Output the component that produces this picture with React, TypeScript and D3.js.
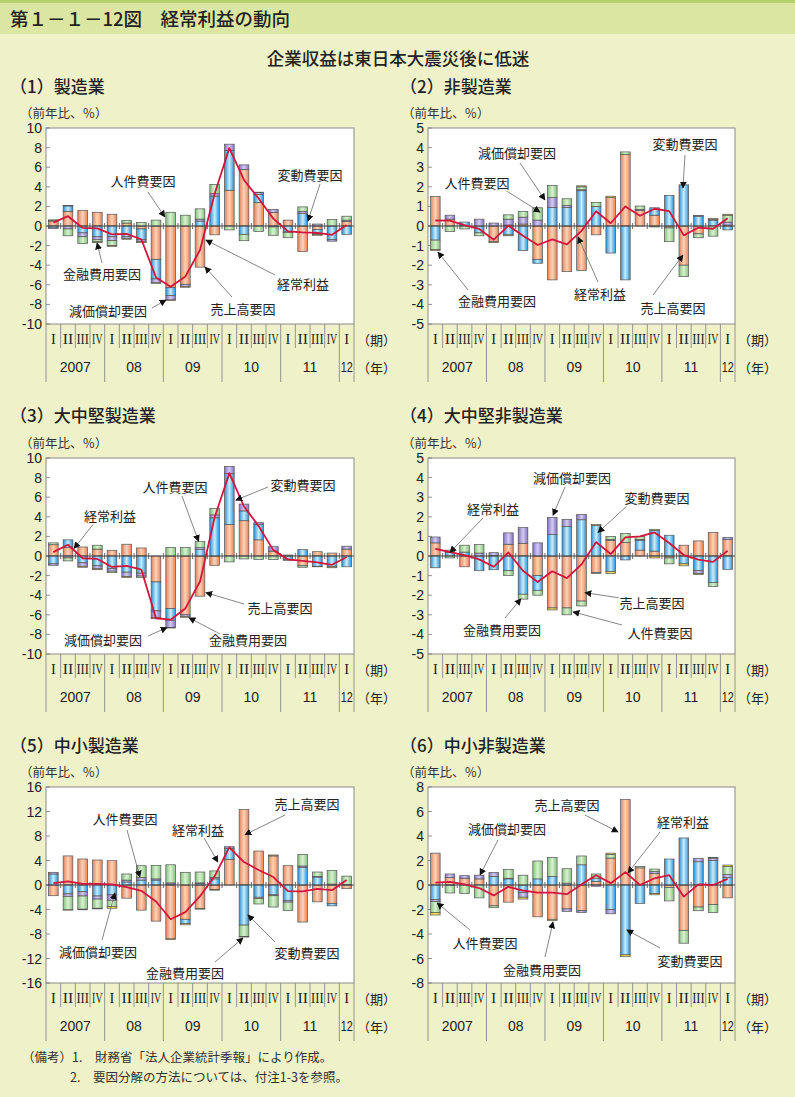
import React from "react";
import * as d3 from "d3";

// ---------- categories ----------
const quarterLabels = ["I","II","III","IV","I","II","III","IV","I","II","III","IV","I","II","III","IV","I","II","III","IV","I"];
const yearLabels = ["2007","08","09","10","11","12"];
const yearStarts = [0,4,8,12,16,20];
const yearEnds = [4,8,12,16,20,21];

const factorKeys = ["sales","variable","dep","pers","fin"];
const factorNames = ["売上高要因","変動費要因","減価償却要因","人件費要因","金融費用要因"];

// ---------- (1) 製造業 ----------
const mfgSales = [0.5,1.5,1.6,1.4,1.2,0.3,-0.3,-3.4,-6.3,-5.95,-4.2,-0.9,3.65,5.76,2.4,1.4,0.6,-2.6,-0.35,0,0.45];
const mfgVar = [-0.2,0.55,-0.7,-1.1,-1.1,-1.1,-1.1,-2.0,-0.8,0,0.5,3.05,4.05,-0.85,0.8,-0.1,-0.6,1.3,-0.45,-1.4,-0.85];
const mfgDep = [-0.05,-0.3,-0.4,-0.3,-0.4,-0.2,-0.2,-0.4,-0.45,-0.25,0.2,0.25,0.65,0.48,0.2,0.3,-0.05,0.2,0.2,-0.15,0.15];
const mfgPers = [0.05,-0.7,-0.7,-0.2,-0.5,0.25,0.35,0.6,1.4,1.1,1.05,0.95,-0.4,-0.65,-0.55,-0.85,-0.55,0.45,-0.05,0.65,0.4];
const mfgFin = [0.08,0.05,0,-0.1,-0.1,-0.05,-0.1,-0.05,-0.05,-0.05,0,0,0,0,0.05,0,0,0,-0.1,0,0];
const mfgProfit = [0.35,1.0,-0.2,-0.25,-0.85,-0.8,-1.35,-5.25,-6.2,-5.15,-2.45,3.3,7.95,4.7,2.8,0.75,-0.55,-0.65,-0.7,-0.9,0.1];

// ---------- (2) 非製造業 ----------
const nonSales = [1.5,0.35,0,0,-0.8,0.05,0.1,-1.7,-2.75,-2.33,-2.27,-0.45,1.45,3.65,0.8,0.55,-0.1,-2.0,-0.4,0,0.05];
const nonVar = [-0.72,0,0.2,-0.35,0,-0.45,-1.25,-0.2,0.95,0.95,1.8,1.0,-1.38,-2.75,0,0.38,1.56,2.1,0.5,0.3,-0.2];
const nonDep = [0,0.2,0,0.35,0.15,0.3,0.35,0.3,0.5,0.1,0.05,0,0,0,0.05,0,0,0,0.04,0.03,0.15];
const nonPers = [-0.48,-0.28,-0.15,-0.15,0,0.22,0.3,0.63,0.62,0.34,0.15,0.2,0,0.13,0.17,0,-0.7,-0.58,-0.2,-0.52,0.35];
const nonFin = [-0.05,0,0,0,-0.05,-0.05,0,0,0,0,0.05,0,0.07,0,0,-0.05,0,0,0,0.05,0.05];
const nonProfit = [0.28,0.27,0.05,-0.15,-0.7,0.02,-0.5,-0.97,-0.68,-0.94,-0.25,0.75,0.14,1.0,0.52,0.88,0.76,-0.48,-0.08,-0.14,0.4];

// ---------- (3) 大中堅製造業 ----------
const lmSales = [1.15,0.85,0.92,0.7,0.58,1.2,0.82,-2.65,-5.35,-6.0,-4.1,-0.95,3.2,3.6,1.65,0.5,0,-1.0,0.44,0.3,0.7];
const lmVar = [-0.8,0.8,-0.7,-1.0,-1.3,-1.65,-1.75,-2.95,-1.2,0,0.65,3.9,5.2,1.0,1.6,0,-0.35,0.65,-1.05,-1.1,-1.1];
const lmDep = [-0.15,-0.2,-0.35,-0.3,-0.25,-0.45,-0.3,-0.7,-0.75,-0.2,0.2,0.3,0.74,0.7,0.15,0.45,0.1,0,0,0,0.3];
const lmPers = [0.19,-0.3,0,0.4,-0.15,0,-0.15,0,0.86,0.86,0.65,0.66,-0.6,-0.3,-0.35,-0.35,-0.1,-0.15,0,0,0];
const lmFin = [0,0,-0.1,-0.1,0,-0.1,0,-0.1,-0.05,-0.05,0,0,0,0,0,0,0,0,-0.05,-0.1,0];
const lmProfit = [0.4,1.15,-0.23,-0.3,-1.12,-1.0,-1.38,-6.35,-6.5,-5.35,-2.6,3.95,8.45,5.05,3.05,0.6,-0.35,-0.5,-0.66,-0.9,-0.1];

// ---------- (4) 大中堅非製造業 ----------
const lnSales = [0.67,0,-0.55,0,0.02,0.6,0.65,-1.0,-2.65,-2.65,-2.3,-0.85,0.8,0.7,0.3,0.25,-0.1,0.55,0.77,1.2,0.85];
const lnVar = [-0.6,0.2,0.2,-0.75,-0.7,-0.75,-1.95,-0.75,1.1,1.5,1.85,1.55,-0.8,-0.2,0.5,1.05,1.06,-0.4,-0.75,-1.35,-0.68];
const lnDep = [0.3,0.1,0,0.15,0.15,0.58,0.8,0.67,0.87,0.37,0.27,0,0.05,0,0.05,0,0,0,-0.15,0,0.1];
const lnPers = [0,-0.1,0.35,0.43,0,-0.25,-0.25,-0.25,0,-0.35,-0.25,-0.05,0.15,0.45,0.15,0.05,-0.3,0,0,-0.2,0];
const lnFin = [0,0,0,0,0,0,0,0,-0.1,0,0,0.06,-0.1,0,0,-0.1,0,-0.1,-0.05,0,0];
const lnProfit = [0.37,0.2,0.05,-0.17,-0.55,0.18,-0.75,-1.33,-0.78,-1.13,-0.43,0.71,0.1,0.95,1.0,1.2,0.66,0.05,-0.18,-0.3,0.27];

// ---------- (5) 中小製造業 ----------
const smSales = [-1.75,4.75,4.25,4.08,3.97,-2.15,-4.1,-5.9,-8.8,-5.6,-3.85,-0.75,4.2,12.35,5.55,4.75,3.15,-6.05,-2.75,-3.0,-0.6];
const smVar = [1.8,-1.45,-1.1,-1.8,-1.6,0.5,0.8,0.8,0.15,-0.7,0.2,1.0,1.8,-6.55,-2.0,-1.6,-2.5,2.9,1.3,-0.4,0.1];
const smDep = [0.27,-0.4,-0.7,-0.5,-0.9,0.3,0.4,0.2,0.2,0,0.15,0.2,0.25,0,-0.2,-0.15,-0.3,0.2,0.1,0.15,0];
const smPers = [0,-2.2,-2.15,-1.5,-1.0,1.0,1.95,2.2,2.95,2.07,1.77,1.1,0,-1.85,-0.9,-1.85,-1.35,1.9,0.72,2.2,1.35];
const smFin = [0,-0.05,-0.1,-0.1,-0.3,0,0,0,-0.1,-0.2,-0.1,-0.1,0,-0.1,0,0.15,0,0,0,0,0];
const smProfit = [0.32,0.6,0.2,0.18,0.1,-0.35,-0.95,-2.7,-5.6,-4.43,-1.83,1.45,6.15,3.75,2.45,1.3,-1.0,-1.05,-0.63,-0.85,0.8];

// ---------- (6) 中小非製造業 ----------
const snSales = [2.6,0.6,0.55,0.5,-1.7,-1.4,0,-2.6,-2.8,-1.95,-2.1,0.3,2.2,6.97,1.4,0.95,-0.2,-3.7,-1.8,-1.6,-1.05];
const snVar = [-1.2,-0.05,0,0,0.7,0.5,-0.6,0.5,0.7,0.15,1.65,0.25,-2.0,-5.7,-1.5,-0.7,2.12,3.84,1.9,2.0,0.6];
const snDep = [-0.15,0.3,0.21,0.3,0.33,0.05,-0.4,0,0,-0.2,-0.15,-0.1,-0.35,0,0,0.15,0,0,0.28,0.2,0.25];
const snPers = [-0.9,-0.6,-0.7,-1.05,-0.15,0.73,0.8,1.46,1.55,1.18,0.72,0.35,0.3,0,0.12,0.2,-1.1,-1.05,-0.3,-0.65,0.65];
const snFin = [-0.2,0,0,0,0,0,-0.15,0,-0.1,0,0,0,0.1,-0.15,0,-0.1,0,0,0,0.05,0.13];
const snProfit = [0.2,0.25,0.05,-0.25,-0.85,-0.15,-0.45,-0.62,-0.62,-0.75,0.05,0.8,0.15,1.05,0.0,0.55,0.8,-0.95,0.05,0.0,0.5];

// annotation: [text, labelX, labelY, lineStartX, lineStartY, targetIndex, targetValue] (label/line in px relative to plot)
type Note = [string, number, number, number, number, number, number];

const notes1: Note[] = [
  ["人件費要因", 97, 52, 102, 64, 7.6, 0.92],
  ["変動費要因", 264, 46, 274, 56, 17.36, 0.5],
  ["金融費用要因", 56, 145, 56, 135, 2.98, -1.73],
  ["減価償却要因", 62, 182, 106, 180, 7.68, -7.55],
  ["経常利益", 257, 155, 229, 147, 10.4, -1.43],
  ["売上高要因", 197, 180, 186, 169, 10.34, -4.18],
];
const notes2: Note[] = [
  ["減価償却要因", 89, 24, 92, 35, 7.5, 1.33],
  ["人件費要因", 49, 54, 77, 62, 7.16, 0.71],
  ["変動費要因", 257, 15, 257, 27, 16.94, 1.94],
  ["金融費用要因", 69, 172, 40, 162, 0.18, -1.33],
  ["経常利益", 172, 165, 170, 154, 9.76, -0.56],
  ["売上高要因", 245, 179, 225, 167, 16.94, -1.48],
];
const notes3: Note[] = [
  ["経常利益", 64, 57, 49, 64, 1.41, 0.77],
  ["人件費要因", 129, 28, 136, 38, 9.9, 1.5],
  ["変動費要因", 257, 26, 222, 29, 12.45, 5.7],
  ["売上高要因", 234, 149, 198, 146, 10.4, -3.74],
  ["減価償却要因", 57, 181, 102, 178, 7.75, -7.3],
  ["金融費用要因", 202, 181, 174, 176, 9.25, -6.3],
];
const notes4: Note[] = [
  ["経常利益", 65, 50, 55, 60, 1.0, 0.18],
  ["減価償却要因", 144, 19, 137, 29, 8.05, 2.08],
  ["変動費要因", 229, 39, 200, 47, 11.13, 1.2],
  ["売上高要因", 224, 144, 192, 140, 10.24, -1.87],
  ["金融費用要因", 74, 171, 77, 160, 5.86, -2.18],
  ["人件費要因", 232, 174, 194, 167, 9.42, -2.85],
];
const notes5: Note[] = [
  ["人件費要因", 79, 31, 81, 43, 5.9, 1.3],
  ["経常利益", 152, 42, 158, 51, 11.22, 3.75],
  ["売上高要因", 261, 16, 239, 28, 13.07, 8.2],
  ["減価償却要因", 52, 164, 56, 153, 4.2, -1.3],
  ["変動費要因", 261, 165, 229, 155, 13.27, -4.9],
  ["金融費用要因", 139, 185, 169, 175, 12.93, -8.65],
];
const notes6: Note[] = [
  ["売上高要因", 139, 17, 157, 28, 12.5, 4.33],
  ["減価償却要因", 79, 41, 70, 53, 3.06, 0.82],
  ["経常利益", 255, 34, 232, 45, 13.18, 0.98],
  ["人件費要因", 57, 155, 42, 143, 0.12, -1.47],
  ["金融費用要因", 114, 182, 117, 170, 8.05, -3.02],
  ["変動費要因", 262, 173, 232, 161, 13.1, -3.67],
];

const panels = [
  { title: "（1）製造業", x0: 46, y0: 128, w: 308, tx: 10, ty: 85, yMin: -10, yMax: 10, step: 2, s: mfgSales, v: mfgVar, d: mfgDep, p: mfgPers, f: mfgFin, profit: mfgProfit, notes: notes1 },
  { title: "（2）非製造業", x0: 428, y0: 128, w: 307, tx: 400, ty: 85, yMin: -5, yMax: 5, step: 1, s: nonSales, v: nonVar, d: nonDep, p: nonPers, f: nonFin, profit: nonProfit, notes: notes2 },
  { title: "（3）大中堅製造業", x0: 46, y0: 458, w: 308, tx: 10, ty: 414, yMin: -10, yMax: 10, step: 2, s: lmSales, v: lmVar, d: lmDep, p: lmPers, f: lmFin, profit: lmProfit, notes: notes3 },
  { title: "（4）大中堅非製造業", x0: 428, y0: 458, w: 307, tx: 400, ty: 414, yMin: -5, yMax: 5, step: 1, s: lnSales, v: lnVar, d: lnDep, p: lnPers, f: lnFin, profit: lnProfit, notes: notes4 },
  { title: "（5）中小製造業", x0: 46, y0: 787, w: 308, tx: 10, ty: 744, yMin: -16, yMax: 16, step: 4, s: smSales, v: smVar, d: smDep, p: smPers, f: smFin, profit: smProfit, notes: notes5 },
  { title: "（6）中小非製造業", x0: 428, y0: 787, w: 307, tx: 400, ty: 744, yMin: -8, yMax: 8, step: 2, s: snSales, v: snVar, d: snDep, p: snPers, f: snFin, profit: snProfit, notes: notes6 },
];

const fillColors: Record<string, [string, string]> = {
  sales: ["#e5835a", "#fbd3b8"],
  variable: ["#2b8ed4", "#c9eefc"],
  dep: ["#8372c4", "#d3ccef"],
  pers: ["#84c27d", "#daf1d2"],
  fin: ["#e6bd1c", "#fff27a"],
};

const JP = "'Noto Sans CJK JP', 'Noto Sans', sans-serif";
const H = 196;

function Panel({ cfg }: { cfg: any }) {
  const { x0, y0, w, yMin, yMax, step } = cfg;
  const y = d3.scaleLinear().domain([yMin, yMax]).range([H, 0]);
  const xb = d3.scaleBand<number>().domain(d3.range(21)).range([0, w]).paddingInner(0.34).paddingOuter(0.17);
  const xf = d3.scaleLinear().domain([-0.5, 20.5]).range([0, w]);
  const rows = d3.range(21).map((i) => ({ sales: cfg.s[i], variable: cfg.v[i], dep: cfg.d[i], pers: cfg.p[i], fin: cfg.f[i] }));
  const series = d3.stack<any>().keys(factorKeys).offset(d3.stackOffsetDiverging)(rows);
  const line = d3.line<number>().x((_, i) => (xb(i) as number) + xb.bandwidth() / 2).y((d) => y(d));
  const ticks = d3.range(yMin, yMax + 0.001, step);
  const bw = xb.bandwidth();
  return (
    <g>
      <text x={cfg.tx} y={cfg.ty} fontFamily={JP} fontSize={17} fontWeight={500} fill="#222" dominantBaseline="central">{cfg.title}</text>
      <text x={x0 - 26} y={y0 - 16} fontFamily={JP} fontSize={12.5} fill="#333" dominantBaseline="central">（前年比、％）</text>
      <g transform={`translate(${x0},${y0})`}>
        <rect x={0} y={0} width={w} height={H} fill="#fff" stroke="#8a8a8a" strokeWidth={1} />
        {ticks.map((t) => (
          <g key={t}>
            <text x={-4} y={y(t)} textAnchor="end" dominantBaseline="central" fontFamily="'Liberation Sans', Arial, sans-serif" fontSize={14} fill="#222">{t}</text>
            <line x1={0} x2={4} y1={y(t)} y2={y(t)} stroke="#777" strokeWidth={0.8} />
          </g>
        ))}
        {series.map((s) => (
          <g key={s.key}>
            {s.map((seg, i) => {
              const h0 = y(seg[0]), h1 = y(seg[1]);
              const hh = Math.abs(h0 - h1);
              if (hh < 0.05) return null;
              return (
                <rect key={i} x={xb(i)} y={Math.min(h0, h1)} width={bw} height={hh}
                  fill={`url(#grad-${s.key})`} stroke="#555" strokeWidth={0.7} />
              );
            })}
          </g>
        ))}
        <line x1={0} x2={w} y1={y(0)} y2={y(0)} stroke="#444" strokeWidth={1} />
        {d3.range(1, 21).map((i) => (
          <line key={i} x1={xf(i - 0.5)} x2={xf(i - 0.5)} y1={y(0) - 3} y2={y(0) + 3} stroke="#444" strokeWidth={0.8} />
        ))}
        <path d={line(cfg.profit) || ""} fill="none" stroke="#d4143c" strokeWidth={1.8} strokeLinejoin="round" />
        {cfg.notes.map((n: Note, k: number) => {
          const tipX = xf(n[5]);
          const tipY = y(n[6]);
          return (
            <g key={k}>
              <line x1={n[3]} y1={n[4]} x2={tipX} y2={tipY} stroke="#666" strokeWidth={0.8} markerEnd={`url(#arrow)`} />
              <text x={n[1]} y={n[2]} textAnchor="middle" dominantBaseline="central" fontFamily={JP} fontSize={13} fill="#222" stroke="#fff" strokeWidth={3} paintOrder="stroke">{n[0]}</text>
            </g>
          );
        })}
        {d3.range(0, 22).map((i) => {
          const isYear = yearStarts.includes(i) || i === 21;
          return <line key={i} x1={xf(i - 0.5)} x2={xf(i - 0.5)} y1={H} y2={H + (isYear ? 58 : 24)} stroke="#8a8a8a" strokeWidth={0.9} />;
        })}
        {quarterLabels.map((q, i) => (
          <text key={i} x={xf(i)} y={H + 15} textAnchor="middle" dominantBaseline="central" fontFamily="'Liberation Serif', 'DejaVu Serif', serif" fontSize={14.5} fill="#222"
            textLength={q.length > 2 ? 12.5 : q.length > 1 ? 10.5 : undefined} lengthAdjust="spacingAndGlyphs">{q}</text>
        ))}
        {yearLabels.map((yl, k) => (
          <text key={yl} x={(xf(yearStarts[k] - 0.5) + xf(yearEnds[k] - 0.5)) / 2} y={H + 43} textAnchor="middle" dominantBaseline="central"
            fontFamily="'Liberation Sans', Arial, sans-serif" fontSize={14} fill="#222" textLength={yl === "12" ? 12 : undefined} lengthAdjust="spacingAndGlyphs">{yl}</text>
        ))}
        <text x={w + 3} y={H + 15} dominantBaseline="central" fontFamily={JP} fontSize={13} fill="#222">（期）</text>
        <text x={w + 3} y={H + 43} dominantBaseline="central" fontFamily={JP} fontSize={13} fill="#222">（年）</text>
      </g>
    </g>
  );
}

export default function App() {
  return (
    <div>
      <style>{"body{margin:0;}"}</style>
      <svg width={795} height={1097} viewBox="0 0 795 1097" style={{ display: "block" }}>
        <defs>
          {factorKeys.map((k) => (
            <linearGradient key={k} id={`grad-${k}`} x1="0" x2="1" y1="0" y2="0">
              <stop offset="0%" stopColor={fillColors[k][0]} />
              <stop offset="50%" stopColor={fillColors[k][1]} />
              <stop offset="100%" stopColor={fillColors[k][0]} />
            </linearGradient>
          ))}
          <marker id="arrow" viewBox="0 0 10 10" refX="9" refY="5" markerWidth="7" markerHeight="7" orient="auto" markerUnits="userSpaceOnUse">
            <path d="M0,0 L10,5 L0,10 Z" fill="#111" />
          </marker>
        </defs>
        <rect x={0} y={0} width={795} height={1097} fill="#eff2c8" />
        <rect x={0} y={0} width={795} height={34} fill="#dbe6a2" />
        <rect x={0} y={0} width={795} height={3} fill="#b5cf6c" />
        <text x={10} y={18} fontFamily={JP} fontSize={18.5} fontWeight={500} fill="#222" dominantBaseline="central">第１－１－12図　経常利益の動向</text>
        <text x={398} y={57} textAnchor="middle" fontFamily={JP} fontSize={17.5} fontWeight={500} fill="#222" dominantBaseline="central">企業収益は東日本大震災後に低迷</text>
        {panels.map((p, i) => <Panel key={i} cfg={p} />)}
        <text x={22} y={1056} fontFamily={JP} fontSize={12.5} fill="#333" dominantBaseline="central">（備考）1.　財務省「法人企業統計季報」により作成。</text>
        <text x={70} y={1076} fontFamily={JP} fontSize={12.5} fill="#333" dominantBaseline="central">2.　要因分解の方法については、付注1-3を参照。</text>
      </svg>
    </div>
  );
}
